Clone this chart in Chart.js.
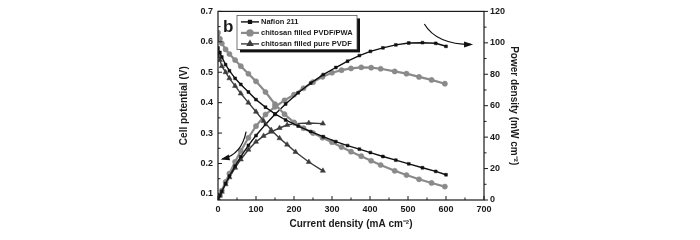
<!DOCTYPE html>
<html>
<head>
<meta charset="utf-8">
<script src="https://cdn.jsdelivr.net/npm/chart.js@4.4.0/dist/chart.umd.min.js"></script>
<style>
html, body { margin: 0; padding: 0; background: #fff; }
</style>
</head>
<body>
<canvas id="fuelcell" width="700" height="240"></canvas>
<script>
// Nafion 211
var nafionCurrent = [0, 5, 10, 20, 30, 45, 60, 80, 100, 125, 150, 178, 211, 244, 277, 310, 341, 372, 401, 434, 468, 502, 538, 573, 600];
var nafionVoltage = [0.58, 0.565, 0.55, 0.525, 0.505, 0.48, 0.46, 0.435, 0.41, 0.385, 0.363, 0.343, 0.323, 0.305, 0.288, 0.272, 0.259, 0.247, 0.236, 0.223, 0.211, 0.199, 0.186, 0.174, 0.163];
var nafionPower = [0, 2.8, 5.5, 10.5, 15.2, 21.6, 27.6, 34.8, 41.0, 48.1, 54.5, 61.1, 68.2, 74.4, 79.8, 84.3, 88.3, 91.9, 94.6, 96.8, 98.7, 99.9, 100.1, 99.7, 97.8];

// chitosan filled PVDF/PWA
var pwaCurrent = [0, 5, 10, 20, 30, 45, 60, 80, 100, 125, 150, 175, 200, 225, 250, 275, 300, 325, 350, 377, 403, 428, 465, 496, 529, 562, 597];
var pwaVoltage = [0.63, 0.61, 0.595, 0.575, 0.56, 0.54, 0.52, 0.495, 0.47, 0.435, 0.395, 0.362, 0.335, 0.316, 0.30, 0.285, 0.27, 0.254, 0.239, 0.224, 0.209, 0.195, 0.176, 0.162, 0.148, 0.136, 0.124];
var pwaPower = [0, 3.1, 6.0, 11.5, 16.8, 24.3, 31.2, 39.6, 47.0, 54.4, 59.3, 63.4, 67.0, 71.1, 75.0, 78.4, 81.0, 82.6, 83.7, 84.4, 84.2, 83.5, 81.8, 80.4, 78.3, 76.4, 74.0];

// chitosan filled pure PVDF
var pvdfCurrent = [0, 5, 10, 20, 30, 45, 60, 80, 100, 120, 140, 162, 182, 204, 239, 276];
var pvdfVoltage = [0.56, 0.54, 0.52, 0.50, 0.48, 0.455, 0.43, 0.40, 0.37, 0.34, 0.31, 0.283, 0.262, 0.238, 0.205, 0.176];
var pvdfPower = [0, 2.7, 5.2, 10.0, 14.4, 20.5, 25.8, 32.0, 37.0, 40.8, 43.4, 45.8, 47.7, 48.6, 49.0, 48.6];

var seriesLabels = ["Nafion 211", "chitosan filled PVDF/PWA", "chitosan filled pure PVDF"];

// axis ticks
var xTicks = [0, 100, 200, 300, 400, 500, 600, 700];
var xMinorTicks = [50, 150, 250, 350, 450, 550, 650];
var voltTicks = [0.1, 0.2, 0.3, 0.4, 0.5, 0.6, 0.7];
var voltMinorTicks = [0.15, 0.25, 0.35, 0.45, 0.55, 0.65];
var powerTicks = [0, 20, 40, 60, 80, 100, 120];
var powerMinorTicks = [10, 30, 50, 70, 90, 110];

function pts(xs, ys) {
    return xs.map(function(x, i) { return {x: x, y: ys[i]}; });
}

var FONT = "'Liberation Sans', Arial, sans-serif";
var INK = "#1a1a1a";

var styles = [
    {color: "#111111", width: 1.4, point: "rect", radius: 2},
    {color: "#8a8a8a", width: 2.2, point: "circle", radius: 2.6},
    {color: "#3c3c3c", width: 1.4, point: "triangle", radius: 3}
];

function makeSet(idx, xs, ys, axis) {
    var s = styles[idx];
    return {
        label: seriesLabels[idx],
        data: pts(xs, ys),
        yAxisID: axis,
        showLine: true,
        borderColor: s.color,
        backgroundColor: s.color,
        borderWidth: s.width,
        pointStyle: s.point,
        pointRadius: s.radius,
        pointBorderWidth: 0.5,
        tension: 0
    };
}

var datasets = [
    makeSet(0, nafionCurrent, nafionVoltage, "y"),
    makeSet(1, pwaCurrent, pwaVoltage, "y"),
    makeSet(2, pvdfCurrent, pvdfVoltage, "y"),
    makeSet(0, nafionCurrent, nafionPower, "y1"),
    makeSet(1, pwaCurrent, pwaPower, "y1"),
    makeSet(2, pvdfCurrent, pvdfPower, "y1")
];

function fixTicks(values) {
    return function(scale) {
        scale.ticks = values.map(function(v) { return {value: v}; });
    };
}

// frame, ticks, legend box, panel letter and arrows
var decorPlugin = {
    id: "decor",
    afterDraw: function(chart) {
        var ctx = chart.ctx;
        var a = chart.chartArea;
        var sx = chart.scales.x, sy = chart.scales.y, sp = chart.scales.y1;
        ctx.save();
        ctx.strokeStyle = INK;
        ctx.lineWidth = 1.2;
        ctx.strokeRect(a.left, a.top, a.right - a.left, a.bottom - a.top);

        function tick(x1, y1, x2, y2) {
            ctx.beginPath(); ctx.moveTo(x1, y1); ctx.lineTo(x2, y2); ctx.stroke();
        }
        ctx.lineWidth = 1;
        xTicks.forEach(function(v) { var p = sx.getPixelForValue(v); tick(p, a.bottom, p, a.bottom - 4); });
        xMinorTicks.forEach(function(v) { var p = sx.getPixelForValue(v); tick(p, a.bottom, p, a.bottom - 2.5); });
        voltTicks.forEach(function(v) { var p = sy.getPixelForValue(v); tick(a.left, p, a.left + 4, p); });
        voltMinorTicks.forEach(function(v) { var p = sy.getPixelForValue(v); tick(a.left, p, a.left + 2.5, p); });
        powerTicks.forEach(function(v) { var p = sp.getPixelForValue(v); tick(a.right, p, a.right + 4, p); });
        powerMinorTicks.forEach(function(v) { var p = sp.getPixelForValue(v); tick(a.right, p, a.right + 2.5, p); });

        // panel letter
        ctx.fillStyle = INK;
        ctx.font = "bold 17px " + FONT;
        ctx.textBaseline = "alphabetic";
        ctx.textAlign = "left";
        ctx.fillText("b", a.left + 5, a.top + 21);

        // legend box with shadow
        var lx = a.left + 19, ly = a.top + 4, lw = 120, lh = 34;
        ctx.fillStyle = "#111";
        ctx.fillRect(lx + 3, ly + 3, lw, lh);
        ctx.fillStyle = "#fff";
        ctx.fillRect(lx, ly, lw, lh);
        ctx.strokeStyle = "#555";
        ctx.lineWidth = 0.8;
        ctx.strokeRect(lx, ly, lw, lh);
        ctx.font = "bold 7.5px " + FONT;
        ctx.textBaseline = "middle";
        for (var i = 0; i < 3; i++) {
            var s = styles[i];
            var yy = ly + 6.5 + i * 11;
            ctx.strokeStyle = s.color;
            ctx.lineWidth = s.width;
            tick(lx + 4, yy, lx + 22, yy);
            Chart.helpers.drawPoint(ctx, {pointStyle: s.point, radius: s.radius, rotation: 0, borderWidth: 0.5}, lx + 13, yy);
            ctx.fillStyle = s.color;
            ctx.fill();
            ctx.fillStyle = INK;
            ctx.fillText(seriesLabels[i], lx + 24, yy + 0.5);
        }

        // arrows
        function arrow(p0, c, p1) {
            ctx.strokeStyle = "#111";
            ctx.fillStyle = "#111";
            ctx.lineWidth = 1.2;
            ctx.beginPath();
            ctx.moveTo(p0[0], p0[1]);
            ctx.quadraticCurveTo(c[0], c[1], p1[0], p1[1]);
            ctx.stroke();
            var ang = Math.atan2(p1[1] - c[1], p1[0] - c[0]);
            var L = 7, W = 3;
            ctx.beginPath();
            ctx.moveTo(p1[0] + Math.cos(ang) * 2, p1[1] + Math.sin(ang) * 2);
            ctx.lineTo(p1[0] - Math.cos(ang) * L - Math.sin(ang) * W, p1[1] - Math.sin(ang) * L + Math.cos(ang) * W);
            ctx.lineTo(p1[0] - Math.cos(ang) * L + Math.sin(ang) * W, p1[1] - Math.sin(ang) * L - Math.cos(ang) * W);
            ctx.closePath();
            ctx.fill();
        }
        arrow([sx.getPixelForValue(74), sy.getPixelForValue(0.305)],
              [sx.getPixelForValue(62), sy.getPixelForValue(0.23)],
              [sx.getPixelForValue(12), sy.getPixelForValue(0.215)]);
        arrow([sx.getPixelForValue(543), sp.getPixelForValue(112)],
              [sx.getPixelForValue(575), sp.getPixelForValue(99)],
              [sx.getPixelForValue(666), sp.getPixelForValue(99)]);
        ctx.restore();
    }
};

var ctx = document.getElementById("fuelcell").getContext("2d");
var chart = new Chart(ctx, {
    type: "scatter",
    data: {datasets: datasets},
    options: {
        responsive: false,
        animation: false,
        layout: {padding: {top: 10, left: 178, right: 174, bottom: 10}},
        plugins: {legend: {display: false}, tooltip: {enabled: false}},
        scales: {
            x: {
                type: "linear", min: 0, max: 700,
                afterBuildTicks: fixTicks(xTicks),
                afterFit: function(s) { s.height = 30; },
                grid: {display: false, drawTicks: false},
                border: {display: false},
                ticks: {color: INK, padding: 4, font: {family: FONT, size: 9, weight: "bold"}, maxRotation: 0},
                title: {display: true, text: "Current density (mA cm\u207B\u00B2)", color: INK, padding: {top: 2, bottom: 0},
                        font: {family: FONT, size: 10, weight: "bold"}}
            },
            y: {
                type: "linear", position: "left", min: 0.08, max: 0.7,
                afterBuildTicks: fixTicks(voltTicks),
                afterFit: function(s) { s.width = 40; },
                grid: {display: false, drawTicks: false},
                border: {display: false},
                ticks: {color: INK, padding: 5, font: {family: FONT, size: 9, weight: "bold"},
                        callback: function(v) { return v.toFixed(1); }},
                title: {display: true, text: "Cell potential (V)", color: INK, padding: {top: 0, bottom: 6},
                        font: {family: FONT, size: 10, weight: "bold"}}
            },
            y1: {
                type: "linear", position: "right", min: 0, max: 120,
                afterBuildTicks: fixTicks(powerTicks),
                afterFit: function(s) { s.width = 42; },
                grid: {display: false, drawTicks: false},
                border: {display: false},
                ticks: {color: INK, padding: 6, font: {family: FONT, size: 9, weight: "bold"}},
                title: {display: true, text: "Power density (mW cm\u207B\u00B2)", color: INK, padding: {top: 6, bottom: 0},
                        font: {family: FONT, size: 10, weight: "bold"}}
            }
        }
    },
    plugins: [decorPlugin]
});
</script>
</body>
</html>
